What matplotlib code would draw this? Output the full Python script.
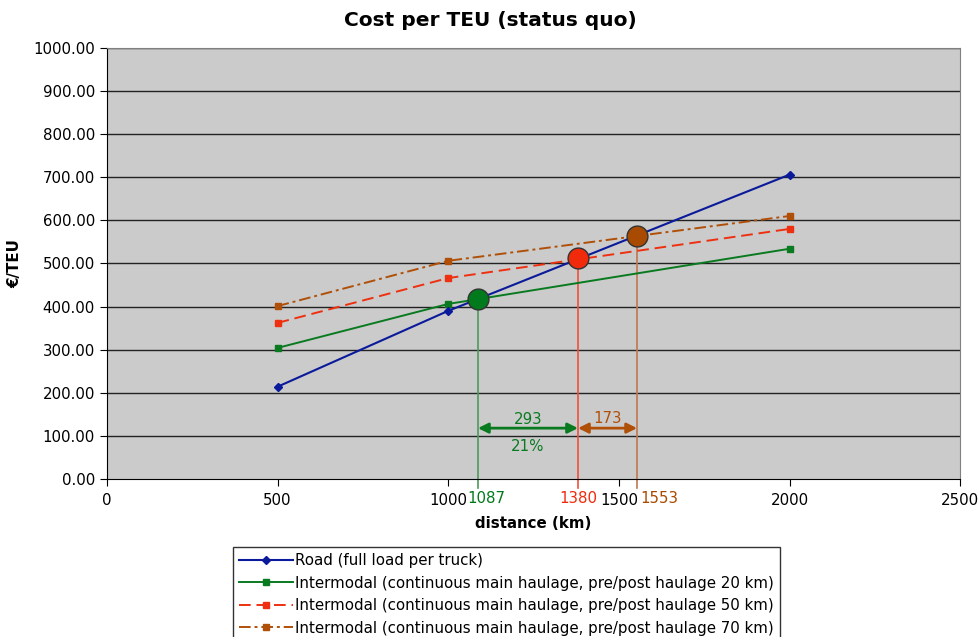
import numpy as np
import matplotlib.pyplot as plt
from matplotlib.ticker import FormatStrFormatter
from matplotlib.transforms import blended_transform_factory, offset_copy

# data
distance = [500, 1000, 2000]
road = [214, 390, 706]
im20 = [304, 406, 534]
im50 = [362, 466, 580]
im70 = [401, 506, 610]

# break-even points (distance km, cost)
be_x = [1087, 1380, 1553]
be_y = [417, 512, 563]
be_labels = ['1087', '1380', '1553']
be_colors = ['#007A1C', '#F02A0A', '#A84A00']
vline_colors = ['#4E9A5A', '#F0503A', '#C07850']

arrow_y = 118
gap1 = '293'
gap1_pct = '21%'
gap2 = '173'

labels = ['Road (full load per truck)',
          'Intermodal (continuous main haulage, pre/post haulage 20 km)',
          'Intermodal (continuous main haulage, pre/post haulage 50 km)',
          'Intermodal (continuous main haulage, pre/post haulage 70 km)']

plt.rcParams['font.family'] = ['DejaVu Sans']
fs = 10.8
fig = plt.figure(figsize=(9.8, 6.37), dpi=100)
ax = fig.add_axes([0.109, 0.248, 0.871, 0.677])
ax.set_facecolor('#CBCBCB')

# grid
for y in np.arange(100, 1001, 100):
    ax.axhline(y, color='#222222', lw=1.0, zorder=1)

l1, = ax.plot(distance, road, '-', color='#0A1A9A', lw=1.5, marker='D', ms=4, zorder=4)
l2, = ax.plot(distance, im20, '-', color='#0A7A20', lw=1.4, marker='s', ms=5, zorder=3)
l3, = ax.plot(distance, im50, '--', color='#EE3010', lw=1.4, marker='s', ms=5,
              dashes=(6, 3), zorder=3)
l4, = ax.plot(distance, im70, '-.', color='#B05008', lw=1.4, marker='s', ms=5,
              dashes=(6, 2, 1.5, 2), zorder=3)

trans = blended_transform_factory(ax.transData, ax.transAxes)
for x, y, c, vc in zip(be_x, be_y, be_colors, vline_colors):
    ax.plot([x, x], [-0.02, y / 1000], color=vc, lw=1.2, transform=trans,
            clip_on=False, zorder=2)
    ax.plot(x, y, 'o', ms=15, mfc=c, mec='#333333', mew=1, zorder=6)

# x labels for break-even points
offs = [(6, 'center'), (0, 'center'), (2, 'left')]
for x, lab, c, (dx, ha) in zip(be_x, be_labels, be_colors, offs):
    t = offset_copy(trans, fig=fig, x=dx, y=0, units='points')
    ax.text(x, -0.045, lab, color=c, fontsize=fs, ha=ha, va='center', transform=t)

# arrows
ax.annotate('', xy=(be_x[1], arrow_y), xytext=(be_x[0], arrow_y),
            arrowprops=dict(arrowstyle='<|-|>', color='#0A7A20', lw=2,
                            mutation_scale=15, shrinkA=0, shrinkB=0), zorder=5)
ax.annotate('', xy=(be_x[2], arrow_y), xytext=(be_x[1], arrow_y),
            arrowprops=dict(arrowstyle='<|-|>', color='#B05008', lw=2,
                            mutation_scale=15, shrinkA=0, shrinkB=0), zorder=5)
ax.text((be_x[0] + be_x[1]) / 2, arrow_y + 20, gap1, color='#0A7A20', fontsize=fs,
        ha='center', va='center')
ax.text((be_x[0] + be_x[1]) / 2, arrow_y - 42, gap1_pct, color='#0A7A20', fontsize=fs,
        ha='center', va='center')
ax.text((be_x[1] + be_x[2]) / 2, arrow_y + 22, gap2, color='#B05008', fontsize=fs,
        ha='center', va='center')

ax.set_xlim(0, 2500)
ax.set_ylim(0, 1000)
ax.set_xticks(np.arange(0, 2501, 500))
ax.set_yticks(np.arange(0, 1001, 100))
ax.yaxis.set_major_formatter(FormatStrFormatter('%.2f'))
ax.tick_params(labelsize=fs, length=5, direction='out', color='black')
ax.tick_params(axis='x', pad=5)
for s in ['top', 'right']:
    ax.spines[s].set_color('#808080')
for s in ['left', 'bottom']:
    ax.spines[s].set_color('black')

fig.text(0.5, 0.968, 'Cost per TEU (status quo)', fontsize=14.5, fontweight='bold',
         ha='center', va='center')
ax.set_xlabel('distance (km)', fontsize=fs, fontweight='bold', labelpad=6)
ax.set_ylabel('€/TEU', fontsize=fs, fontweight='bold', labelpad=8)

leg = fig.legend([l1, l2, l3, l4], labels, loc='upper left',
                 bbox_to_anchor=(0.238, 0.141), borderaxespad=0, fontsize=fs,
                 frameon=True, fancybox=False, edgecolor='black', handlelength=3.6,
                 handletextpad=0.15, labelspacing=0.5, borderpad=0.4, numpoints=1)
leg.get_frame().set_linewidth(1)

fig.savefig('out.png', dpi=100)
